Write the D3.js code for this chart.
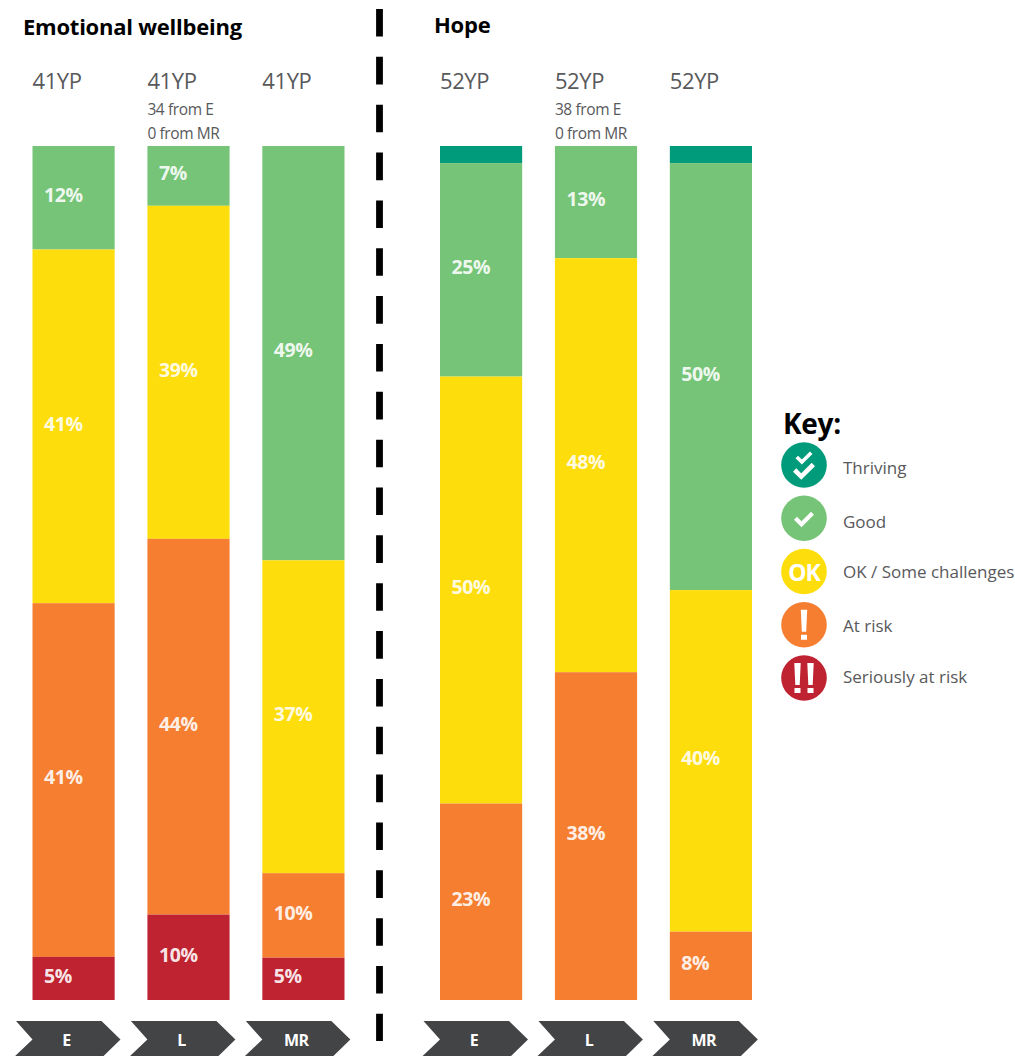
<!DOCTYPE html>
<html>
<head>
<meta charset="utf-8">
<script src="https://cdn.jsdelivr.net/npm/d3@7"></script>
<style>
  html, body { margin: 0; padding: 0; background: #fff; }
  svg { display: block; }
  text { font-family: "Open Sans", "Noto Sans", sans-serif; }
</style>
</head>
<body>
<div id="chart"></div>
<script>
// Share of young people at each wellbeing level, per stage, top of the stack first.
const levels = ["Thriving", "Good", "OK / Some challenges", "At risk", "Seriously at risk"];
const levelColors = ["#009b7a", "#75c477", "#fedd0d", "#f57e31", "#bf2231"];
const stages = ["E", "L", "MR"];

const emotionalE = [0, 12, 41, 41, 5];
const emotionalL = [0, 7, 39, 44, 10];
const emotionalMR = [0, 49, 37, 10, 5];
const hopeE = [2, 25, 50, 23, 0];
const hopeL = [0, 13, 48, 38, 0];
const hopeMR = [2, 50, 40, 8, 0];

const emotionalCounts = ["41YP", "41YP", "41YP"];
const hopeCounts = ["52YP", "52YP", "52YP"];
const emotionalNotes = [[], ["34 from E", "0 from MR"], []];
const hopeNotes = [[], ["38 from E", "0 from MR"], []];

// The thriving slice of the Hope stacks is too thin to carry a printed figure.
const minLabelled = 5;

const width = 1015, height = 1056;
const plotTop = 146, plotBottom = 1000;

const svg = d3.select("#chart").append("svg")
  .attr("width", width).attr("height", height)
  .attr("viewBox", [0, 0, width, height]);

const y = d3.scaleLinear().domain([0, 1]).range([plotTop, plotBottom]);
const color = d3.scaleOrdinal(levels, levelColors);

function panel(config) {
  const x = d3.scaleBand().domain(stages).range(config.range).paddingInner(config.gap).paddingOuter(0);

  const rows = stages.map((s, i) => {
    const row = { stage: s };
    levels.forEach((l, j) => { row[l] = config.series[i][j]; });
    return row;
  });
  // Each column is scaled to its own total, so rounded figures still fill the full height.
  const stacked = d3.stack().keys(levels).offset(d3.stackOffsetExpand)(rows);

  const g = svg.append("g");

  g.append("text")
    .attr("x", config.titleX).attr("y", config.titleY)
    .attr("font-size", config.titleSize).attr("font-weight", 700)
    .attr("letter-spacing", -0.24).attr("fill", "#000")
    .text(config.title);

  const layer = g.selectAll("g.level").data(stacked).join("g")
    .attr("class", "level").attr("fill", d => color(d.key));

  layer.selectAll("rect")
    .data(d => d.filter(p => p.data[d.key] > 0))
    .join("rect")
    .attr("x", p => x(p.data.stage))
    .attr("y", p => y(p[0]))
    .attr("width", x.bandwidth())
    .attr("height", p => y(p[1]) - y(p[0]));

  layer.selectAll("text")
    .data(d => d.filter(p => p.data[d.key] >= minLabelled).map(p => ({ p, value: p.data[d.key] })))
    .join("text")
    .attr("x", d => x(d.p.data.stage) + 11.5)
    .attr("y", d => (y(d.p[0]) + y(d.p[1])) / 2 - 3.2)
    .attr("dominant-baseline", "central")
    .attr("font-size", 19.5).attr("font-weight", 700)
    .attr("letter-spacing", -0.4).attr("fill", "#fff").attr("fill-opacity", 0.9)
    .text(d => `${d.value}%`);

  // Respondent counts above each column
  g.selectAll("text.count").data(config.counts).join("text")
    .attr("class", "count")
    .attr("x", (d, i) => x(stages[i]))
    .attr("y", 89)
    .attr("font-size", 22).attr("letter-spacing", -0.4).attr("fill", "#58595b")
    .text(d => d);

  config.notes.forEach((lines, i) => {
    g.selectAll(null).data(lines).join("text")
      .attr("x", x(stages[i]))
      .attr("y", (d, k) => 115 + k * 24)
      .attr("font-size", 15.5).attr("letter-spacing", -0.4).attr("fill", "#58595b")
      .text(d => d);
  });

  // Stage arrows along the bottom, running off the edge of the page
  const arrow = d3.line();
  const arrows = g.selectAll("g.stage").data(stages).join("g")
    .attr("class", "stage")
    .attr("transform", s => `translate(${x(s)},0)`);
  arrows.append("path")
    .attr("fill", "#434446")
    .attr("d", arrow([[-16.5, 1021], [69, 1021], [88, 1039.5], [69, 1058], [-19.5, 1058], [0, 1039.5]]));
  arrows.append("text")
    .attr("x", 34).attr("y", 1046)
    .attr("text-anchor", "middle")
    .attr("font-size", 16).attr("font-weight", 700)
    .attr("letter-spacing", -0.5).attr("fill", "#fff")
    .text(s => s);
}

panel({
  title: "Emotional wellbeing", titleX: 23, titleY: 35, titleSize: 22,
  range: [32.5, 344.5], gap: 0.285,
  series: [emotionalE, emotionalL, emotionalMR],
  counts: emotionalCounts, notes: emotionalNotes
});

panel({
  title: "Hope", titleX: 434, titleY: 33, titleSize: 22,
  range: [440, 752], gap: 0.285,
  series: [hopeE, hopeL, hopeMR],
  counts: hopeCounts, notes: hopeNotes
});

// Divider between the two measures
svg.append("line")
  .attr("x1", 379.5).attr("x2", 379.5).attr("y1", 9).attr("y2", 1041)
  .attr("stroke", "#000").attr("stroke-width", 6.8)
  .attr("stroke-dasharray", "27.6 20.25");

// Key
const legendX = 804;
const legendY = d3.scalePoint().domain(levels).range([465, 678]);

svg.append("text")
  .attr("x", 783).attr("y", 434)
  .attr("font-size", 28).attr("font-weight", 700)
  .attr("letter-spacing", -0.3).attr("fill", "#000")
  .text("Key:");

const item = svg.selectAll("g.key").data(levels).join("g")
  .attr("class", "key")
  .attr("transform", l => `translate(${legendX},${legendY(l)})`);

item.append("circle").attr("r", 22.8).attr("fill", l => color(l));

item.append("text")
  .attr("x", 39).attr("y", (l, i) => [2, 3, 0, 1, -2][i])
  .attr("dominant-baseline", "central")
  .attr("font-size", 17).attr("letter-spacing", 0).attr("fill", "#58595b")
  .text(l => l);

const tick = "M-8.5,0 L-2.5,6 L8.5,-5";
const icons = item.append("g").attr("fill", "none").attr("stroke", "#fff")
  .attr("stroke-width", 4.2);

icons.filter(l => l === "Thriving").append("path").attr("d", tick).attr("transform", "translate(0,-8) scale(0.85)");
icons.filter(l => l === "Thriving").append("path").attr("d", tick).attr("transform", "translate(0,5) scale(1.1)");
icons.filter(l => l === "Good").append("path").attr("d", tick).attr("transform", "translate(0,0)");

const glyphs = item.append("g").attr("fill", "#fff");
glyphs.filter(l => l === "OK / Some challenges").append("text")
  .attr("text-anchor", "middle").attr("dominant-baseline", "central")
  .attr("font-size", 23).attr("font-weight", 700).attr("letter-spacing", -1)
  .attr("fill", "#fff").text("OK");

const bang = (sel, dx) => {
  sel.append("path").attr("d", `M${dx - 3.2},-15 H${dx + 3.2} L${dx + 2.2},7 H${dx - 2.2} Z`);
  sel.append("rect").attr("x", dx - 3).attr("y", 10).attr("width", 6).attr("height", 5);
};
glyphs.filter(l => l === "At risk").call(bang, 0);
glyphs.filter(l => l === "Seriously at risk").call(bang, -6.5).call(bang, 6.5);
</script>
</body>
</html>
